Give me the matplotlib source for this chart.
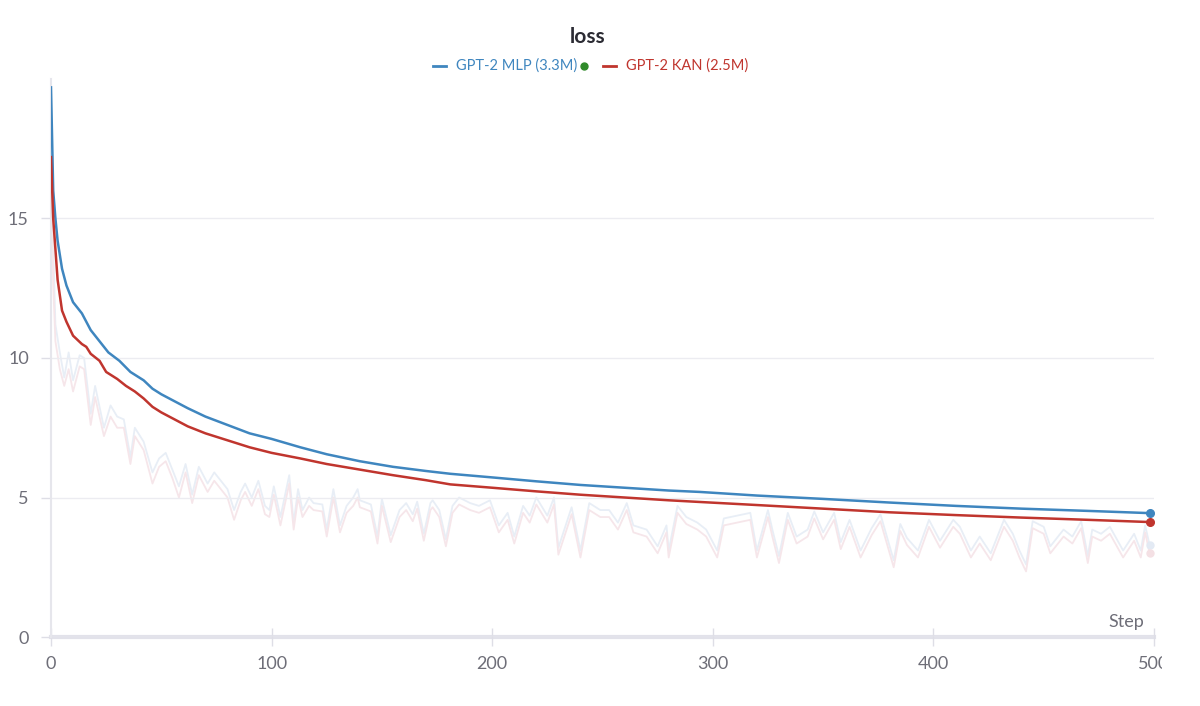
import matplotlib
matplotlib.use("Agg")
import matplotlib.pyplot as plt
from matplotlib.lines import Line2D
from matplotlib.transforms import Bbox, TransformedBbox

plt.rcParams['font.family'] = ['Lato', 'DejaVu Sans']

# smoothed curves
mlp_steps = [0, 1, 2, 3, 5, 7, 10, 14, 18, 22, 26, 31, 36, 42, 46, 50, 56, 62, 70, 80, 90,
             100, 113, 125, 140, 155, 170, 181, 200, 220, 240, 260, 280, 294, 320, 350,
             380, 410, 440, 470, 498]
mlp_loss = [19.7, 16.0, 15.0, 14.2, 13.2, 12.6, 12.0, 11.6, 11.0, 10.6, 10.2, 9.9, 9.5, 9.2,
            8.9, 8.7, 8.45, 8.2, 7.9, 7.6, 7.3, 7.1, 6.8, 6.55, 6.3, 6.1, 5.95, 5.85, 5.72,
            5.58, 5.45, 5.35, 5.25, 5.2, 5.07, 4.95, 4.82, 4.7, 4.6, 4.52, 4.44]

kan_steps = [0, 1, 2, 3, 5, 7, 10, 14, 16, 18, 22, 25, 30, 34, 38, 42, 46, 50, 56, 62, 70,
             80, 90, 100, 113, 125, 140, 155, 170, 181, 200, 220, 240, 260, 280, 294, 320,
             350, 380, 410, 440, 470, 498]
kan_loss = [17.2, 15.0, 13.9, 12.8, 11.7, 11.3, 10.8, 10.5, 10.4, 10.15, 9.9, 9.5, 9.25, 9.0,
            8.8, 8.55, 8.25, 8.05, 7.8, 7.55, 7.3, 7.05, 6.8, 6.6, 6.4, 6.2, 6.0, 5.8, 5.62,
            5.47, 5.35, 5.22, 5.1, 5.0, 4.9, 4.84, 4.73, 4.6, 4.47, 4.37, 4.28, 4.2, 4.12]

# raw (unsmoothed) loss, drawn faint
raw_steps = [0, 1, 2, 4, 6, 8, 10, 13, 15, 18, 20, 24, 27, 30, 33, 36, 38, 42, 46, 49, 52,
             55, 58, 61, 64, 67, 71, 74, 77, 80, 83, 86, 88, 91, 94, 97, 99, 101, 104, 108,
             110, 112, 114, 117, 119, 123, 125, 128, 131, 134, 137, 139, 140, 145, 148, 150,
             154, 158, 161, 164, 166, 169, 172, 173, 176, 179, 182, 185, 190, 194, 199, 203,
             207, 210, 214, 217, 220, 225, 228, 230, 236, 240, 244, 249, 253, 257, 261, 264,
             270, 275, 279, 280, 284, 288, 293, 297, 302, 305, 311, 317, 320, 325, 327, 330,
             334, 338, 343, 346, 350, 355, 358, 362, 367, 372, 376, 382, 385, 388, 393, 398,
             403, 409, 412, 417, 421, 426, 432, 436, 439, 442, 445, 450, 453, 459, 463, 467,
             470, 472, 476, 480, 486, 491, 494, 496, 498]
raw_mlp = [19.7, 14.0, 11.2, 10.2, 9.3, 10.2, 9.2, 10.1, 10.0, 8.0, 9.0, 7.5, 8.3, 7.9, 7.8,
           6.45, 7.5, 7.0, 5.9, 6.4, 6.6, 6.0, 5.4, 6.2, 5.1, 6.1, 5.5, 5.9, 5.6, 5.3, 4.55,
           5.2, 5.5, 5.0, 5.6, 4.7, 4.55, 5.4, 4.3, 5.8, 4.1, 5.3, 4.55, 5.0, 4.8, 4.75, 3.85,
           5.3, 4.0, 4.7, 5.0, 5.3, 4.9, 4.75, 3.6, 4.95, 3.65, 4.55, 4.8, 4.4, 4.85, 3.7, 4.8,
           4.9, 4.55, 3.5, 4.7, 5.0, 4.8, 4.7, 4.9, 4.0, 4.45, 3.6, 4.7, 4.35, 5.0, 4.35, 5.0,
           3.2, 4.65, 3.1, 4.8, 4.55, 4.55, 4.1, 4.8, 4.0, 3.85, 3.25, 4.0, 3.1, 4.7, 4.3, 4.1,
           3.85, 3.1, 4.25, 4.35, 4.45, 3.1, 4.55, 3.85, 2.9, 4.45, 3.6, 3.85, 4.5, 3.75, 4.45,
           3.4, 4.2, 3.1, 3.9, 4.4, 2.75, 4.05, 3.55, 3.1, 4.2, 3.45, 4.2, 3.95, 3.1, 3.6, 3.0,
           4.2, 3.7, 3.1, 2.6, 4.15, 3.95, 3.25, 3.85, 3.6, 4.15, 2.9, 3.85, 3.7, 3.95, 3.1,
           3.7, 3.1, 4.0, 3.3]
raw_kan = [17.2, 12.6, 10.6, 9.6, 9.0, 9.6, 8.8, 9.7, 9.6, 7.6, 8.6, 7.2, 7.9, 7.5, 7.5,
           6.2, 7.2, 6.7, 5.5, 6.1, 6.3, 5.7, 5.0, 5.9, 4.8, 5.8, 5.2, 5.6, 5.3, 5.0, 4.2,
           4.9, 5.2, 4.7, 5.3, 4.4, 4.3, 5.1, 4.0, 5.5, 3.85, 5.0, 4.3, 4.7, 4.55, 4.5, 3.6,
           5.0, 3.75, 4.45, 4.7, 5.0, 4.65, 4.5, 3.35, 4.7, 3.4, 4.3, 4.55, 4.15, 4.6, 3.45,
           4.55, 4.65, 4.3, 3.25, 4.45, 4.75, 4.55, 4.45, 4.65, 3.75, 4.2, 3.35, 4.45, 4.1,
           4.75, 4.1, 4.75, 2.95, 4.4, 2.85, 4.55, 4.3, 4.3, 3.85, 4.55, 3.75, 3.6, 3.0, 3.75,
           2.85, 4.45, 4.05, 3.85, 3.6, 2.85, 4.0, 4.1, 4.2, 2.85, 4.3, 3.6, 2.65, 4.2, 3.35,
           3.6, 4.25, 3.5, 4.2, 3.15, 3.95, 2.85, 3.65, 4.15, 2.5, 3.8, 3.3, 2.85, 3.95, 3.2,
           3.95, 3.7, 2.85, 3.35, 2.75, 3.95, 3.45, 2.85, 2.35, 3.9, 3.7, 3.0, 3.6, 3.35, 3.9,
           2.65, 3.6, 3.45, 3.7, 2.85, 3.45, 2.85, 3.75, 3.0]

labels = ["GPT-2 MLP (3.3M)", "GPT-2 KAN (2.5M)"]
xticks = [0, 100, 200, 300, 400, 500]
yticks = [0, 5, 10, 15]

blue = "#3f86bf"
red = "#c0352e"
grey = "#6e6e78"

fig = plt.figure(figsize=(12, 7.06), dpi=100)
ax = fig.add_axes([51 / 1200, 69 / 706, 1103 / 1200, 558 / 706])

# raw series (faint)
ax.plot(raw_steps, raw_mlp, color="#e8eef6", lw=1.3, zorder=1)
ax.plot(raw_steps, raw_kan, color="#f6e6ea", lw=1.3, zorder=1)
ax.plot(raw_steps[-1], raw_mlp[-1], 'o', color="#e3eaf4", ms=5, zorder=1)
ax.plot(raw_steps[-1], raw_kan[-1], 'o', color="#f4e0e4", ms=5, zorder=1)

# smoothed series
ax.plot(mlp_steps, mlp_loss, color=blue, lw=1.8, zorder=3)
ax.plot(kan_steps, kan_loss, color=red, lw=1.8, zorder=3)
ax.plot(mlp_steps[-1], mlp_loss[-1], 'o', color=blue, ms=5.5, zorder=4)
ax.plot(kan_steps[-1], kan_loss[-1], 'o', color=red, ms=5.5, zorder=4)

ax.set_xlim(0, 500)
ax.set_ylim(0, 20)
ax.set_xticks(xticks)
ax.set_yticks(yticks)
ax.grid(axis='y', color="#ececf1", lw=1, zorder=0)

for s in ['top', 'right']:
    ax.spines[s].set_visible(False)
ax.spines['left'].set_color("#e6e6ec")
ax.spines['left'].set_linewidth(1.5)
ax.spines['bottom'].set_color("#e2e2ea")
ax.spines['bottom'].set_linewidth(3)
ax.spines['bottom'].set_zorder(0.5)

ax.tick_params(axis='x', direction='inout', length=13, width=1, color="#dedee6",
               labelsize=13, labelcolor=grey, pad=7)
ax.tick_params(axis='y', direction='out', length=7, width=1, color="#dedee6",
               labelsize=13, labelcolor=grey, pad=9)

# last x label cut at the chart edge, as in the original
fig.canvas.draw()
clip = TransformedBbox(Bbox([[0, 0], [1162 / 1200, 1]]), fig.transFigure)
for lab in ax.get_xticklabels():
    lab.set_clip_box(clip)
    lab.set_clip_on(True)

ax.text(0.9915, 0.013, "Step", transform=ax.transAxes, ha='right', va='bottom',
        fontsize=13, color=grey)

# title + legend
fig.text(588 / 1200, 1 - 37 / 706, "loss", ha='center', va='center', fontsize=15,
         fontweight='bold', color="#2b2b33")
ly = 1 - 66 / 706
fig.add_artist(Line2D([433 / 1200, 446 / 1200], [ly, ly], color=blue, lw=2))
fig.text(456 / 1200, ly, labels[0], ha='left', va='center', fontsize=10.5, color=blue)
fig.add_artist(Line2D([584 / 1200], [ly], marker='o', ms=5, color="#2f8a2a", lw=0))
fig.add_artist(Line2D([603 / 1200, 616 / 1200], [ly, ly], color=red, lw=2))
fig.text(626 / 1200, ly, labels[1], ha='left', va='center', fontsize=10.5, color=red)

fig.savefig("out.png", dpi=100)
